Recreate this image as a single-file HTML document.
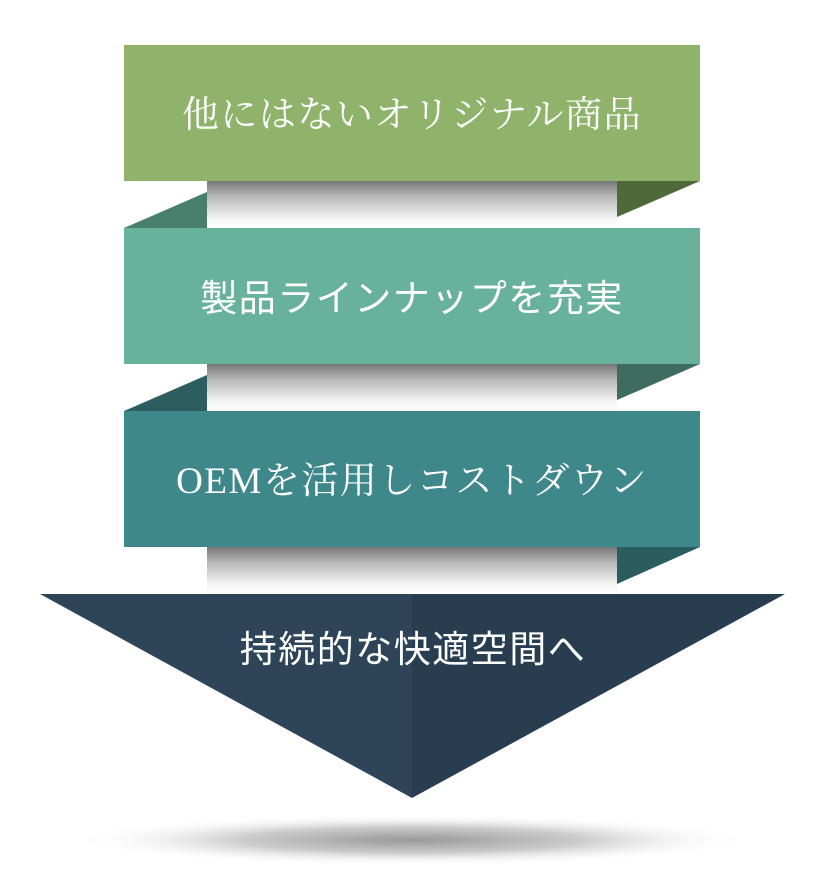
<!DOCTYPE html>
<html><head><meta charset="utf-8"><style>
html,body{margin:0;padding:0;background:#fff;}
body{width:826px;height:872px;position:relative;overflow:hidden;font-family:"Liberation Sans","Noto Sans CJK JP",sans-serif;}
.b{position:absolute;left:124px;width:576px;height:136px;color:#fff;font-size:37px;text-align:center;line-height:142px;letter-spacing:1.5px;}
.band{position:absolute;left:207px;width:410px;height:47px;background:linear-gradient(#777,#bbb 35%,#f4f4f4 80%,#fff);}
svg{position:absolute;left:0;top:0;}
.t{position:absolute;left:0;width:826px;top:622px;text-align:center;color:#fff;font-size:37px;line-height:56px;letter-spacing:1.5px;}
</style></head><body>
<div class="band" style="top:181px"></div>
<div class="band" style="top:364px"></div>
<div class="band" style="top:547px"></div>
<svg width="826" height="872">
<defs>
<radialGradient id="sh" cx="50%" cy="50%" r="50%"><stop offset="0" stop-color="#999"/><stop offset="0.5" stop-color="#ccc"/><stop offset="1" stop-color="#fff" stop-opacity="0"/></radialGradient>
</defs>
<ellipse cx="412" cy="840" rx="340" ry="26" fill="url(#sh)"/>
<polygon points="124,228 207,192 207,228" fill="#487f6c"/>
<polygon points="617,181 700,181 617,217" fill="#4f6a3a"/>
<polygon points="124,411 207,375 207,411" fill="#2e5d5f"/>
<polygon points="617,364 700,364 617,400" fill="#3e6d60"/>
<polygon points="617,547 700,547 617,584" fill="#2b5c5e"/>
<polygon points="40,594 412,594 412,798" fill="#2e4458"/>
<polygon points="412,594 785,594 412,798" fill="#283d50"/>
</svg>
<div class="b" style="top:45px;background:#8fb36b;font-family:'Liberation Serif','Noto Serif CJK JP',serif">他にはないオリジナル商品</div>
<div class="b" style="top:228px;background:#68b19a">製品ラインナップを充実</div>
<div class="b" style="top:411px;background:#3e878b;font-family:'Liberation Serif','Noto Serif CJK JP',serif">OEMを活用しコストダウン</div>
<div class="t">持続的な快適空間へ</div>
</body></html>
